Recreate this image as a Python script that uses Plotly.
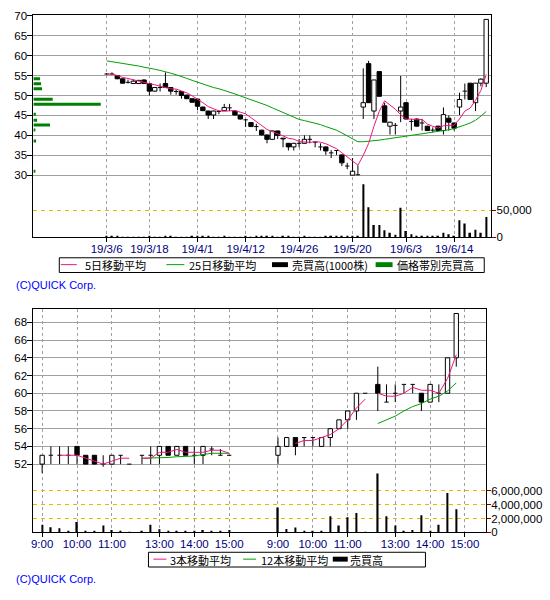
import numpy as np
import pandas as pd
import plotly.graph_objects as go

# ---------------- daily data (top chart) ----------------
dates = ["2019-03-06","2019-03-07","2019-03-08","2019-03-11","2019-03-12","2019-03-13","2019-03-14","2019-03-15",
         "2019-03-18","2019-03-19","2019-03-20","2019-03-22","2019-03-25","2019-03-26","2019-03-27","2019-03-28",
         "2019-03-29","2019-04-01","2019-04-02","2019-04-03","2019-04-04","2019-04-05","2019-04-08","2019-04-09",
         "2019-04-10","2019-04-11","2019-04-12","2019-04-15","2019-04-16","2019-04-17","2019-04-18","2019-04-19",
         "2019-04-22","2019-04-23","2019-04-24","2019-04-25","2019-04-26","2019-05-07","2019-05-08","2019-05-09",
         "2019-05-10","2019-05-13","2019-05-14","2019-05-15","2019-05-16","2019-05-17","2019-05-20","2019-05-21",
         "2019-05-22","2019-05-23","2019-05-24","2019-05-27","2019-05-28","2019-05-29","2019-05-30","2019-05-31",
         "2019-06-03","2019-06-04","2019-06-05","2019-06-06","2019-06-07","2019-06-10","2019-06-11","2019-06-12",
         "2019-06-13","2019-06-14","2019-06-17","2019-06-18","2019-06-19","2019-06-20","2019-06-21","2019-06-24"]

d_open = [55.4,55.4,55.0,54.2,53.3,53.0,53.0,53.9,53.0,51.1,
          52.0,53.0,52.0,51.0,51.0,50.1,49.2,49.1,47.1,46.1,
          45.1,46.0,46.2,46.9,46.1,45.1,43.9,43.2,42.2,41.3,
          40.1,39.0,41.1,39.3,38.0,37.1,38.0,38.0,39.0,38.3,
          37.1,37.1,35.6,36.2,35.1,32.3,30.0,30.1,47.1,58.0,
          46.1,56.0,47.4,42.3,42.5,46.1,48.2,43.5,44.1,43.1,
          42.3,41.3,42.3,41.2,44.3,43.1,47.1,51.1,53.1,48.2,
          53.1,53.1]
d_high = [55.6,55.8,55.1,54.3,54.0,54.0,53.9,54.0,53.1,52.1,
          53.0,55.8,52.0,51.5,51.0,50.2,49.3,49.2,47.2,46.2,
          46.2,46.3,47.9,47.9,46.2,45.2,44.1,43.3,42.9,41.4,
          40.2,41.2,41.2,39.3,38.1,38.1,39.1,40.0,40.0,38.4,
          38.0,37.2,36.3,36.3,35.2,33.1,34.3,32.5,56.8,58.7,
          53.9,56.0,48.2,43.4,43.1,54.9,48.3,44.1,44.2,44.1,
          42.4,42.0,42.4,47.0,45.0,43.2,50.7,53.0,53.1,53.1,
          54.3,69.1]
d_low = [55.2,55.2,54.1,53.0,53.0,53.0,53.0,53.0,50.0,51.0,
         51.0,52.0,50.2,50.2,49.2,49.1,48.2,46.3,46.1,44.1,
         44.1,45.3,46.1,46.1,45.0,44.0,42.1,42.1,41.1,40.0,
         38.0,38.9,39.1,37.0,36.2,36.2,37.0,38.0,38.0,37.0,
         36.2,35.1,34.3,35.1,32.3,31.5,30.0,30.0,44.1,48.2,
         44.1,49.8,43.3,40.2,40.2,43.3,44.0,41.2,42.2,41.2,
         41.1,40.8,41.1,40.2,41.2,41.2,45.1,49.0,48.9,46.1,
         52.3,52.1]
d_close = [55.4,55.4,54.2,53.1,53.3,53.6,53.8,53.0,51.1,52.0,
           52.0,52.0,51.1,51.0,50.0,49.2,48.3,47.3,46.2,45.1,
           46.1,46.0,47.0,46.9,45.1,44.1,43.9,42.2,42.2,40.1,
           39.0,41.1,40.0,39.1,37.1,38.0,38.0,39.0,39.0,38.3,
           37.1,36.1,35.6,36.2,33.1,32.3,31.0,30.1,48.2,48.2,
           53.9,49.8,43.3,43.3,42.5,47.1,44.1,43.5,42.3,43.1,
           41.2,41.3,41.2,45.2,43.3,41.8,49.0,51.1,49.0,53.1,
           54.1,69.1]
# volume in 1000 shares
d_volume = [2200,1500,1200,900,800,700,1000,600,1800,900,
            700,2500,1200,800,900,1000,1100,1600,1300,1500,
            900,700,1200,900,800,1000,1100,900,2600,1400,
            1500,1300,900,1100,1200,800,1000,1400,1000,900,
            1000,1500,1800,1300,2400,2600,3000,2400,98800,56000,
            23000,23000,13400,8500,4900,55000,12000,6000,3000,3000,
            1500,1200,2400,8500,6000,1200,32000,26000,8500,14000,
            8500,38000]
# 25-day moving average
ma25 = [58.7,58.5,58.3,58.1,57.9,57.6,57.4,57.1,56.9,56.6,
        56.3,56.0,55.6,55.2,54.8,54.3,53.8,53.3,52.9,52.4,
        52.0,51.7,51.3,50.9,50.4,49.9,49.4,49.0,48.6,48.1,
        47.5,46.9,46.3,45.7,45.0,44.4,44.0,43.7,43.4,43.0,
        42.7,42.2,41.8,41.3,40.6,39.8,39.0,38.4,38.4,38.5,
        38.6,38.8,39.0,39.2,39.4,39.6,39.8,40.0,40.1,40.3,
        40.5,40.7,40.9,41.1,41.4,41.7,42.1,42.6,43.1,43.8,
        44.8,46.0]
daily_tick_dates = ["2019-03-06","2019-03-18","2019-04-01","2019-04-12",
                    "2019-04-26","2019-05-20","2019-06-03","2019-06-14"]
price_ticks_top = [30, 35, 40, 45, 50, 55, 60, 65, 70]

# price-band volume (価格帯別売買高)
band_price = [54.2, 52.95, 51.7, 49.05, 47.8, 45.3, 43.8, 42.6, 41.35, 38.6, 31.0]
band_volume = [11900, 13700, 15400, 34400, 120000, 4300, 6600, 29600, 3000, 4800, 2500]

# ---------------- intraday data (bottom chart, 15-min bars) ----------------
day1_time = ["9:00","9:15","9:30","9:45","10:00","10:15","10:30","10:45","11:00","11:15","11:30",
             "12:30","12:45","13:00","13:15","13:30","13:45","14:00","14:15","14:30","14:45","15:00"]
day1_open = [52,53,53,53,54,53,53,52,52,53,52, 53,53,53,54,53,54,53,53,53.7,53,53]
day1_high = [53,54,54,54,54,53,53,53,53,53,52, 53,54,54,54,54,54,54,54,54,53.7,53]
day1_low = [51,52,52,52,52,52,52,51.7,52,52,52, 52,52,52,53,53,53,52,52,53,53,53]
day1_close = [53,53,53,53,53,52,52,52,53,53,52, 53,53,54,53,54,53,53,54,53.7,53,53]
day1_vol = [1.1e6,0.75e6,0.6e6,0.15e6,1.5e6,0.2e6,0.15e6,1.0e6,0.35e6,0.15e6,0.1e6,
            0.15e6,1.1e6,0.45e6,0.2e6,0.15e6,0.15e6,0.2e6,0.35e6,0.15e6,0.2e6,0.35e6]

day2_time = ["9:00","9:15","9:30","9:45","10:00","10:15","10:30","10:45","11:00","11:15","11:30",
             "12:30","12:45","13:00","13:15","13:30","13:45","14:00","14:15","14:30","14:45"]
day2_open = [53,54,55,55,55,54,55,56,57,58,60, 61,59,60,61,61,60,59,60,60,64]
day2_high = [55,55,55,55,55,55,56,57,58,60,60, 63,61,61,61,61,60,61,61,64,69]
day2_low = [52,54,53,54,54,54,54,56,56,57,60, 58,59,59,60,60,58,59,59,60,63]
day2_close = [54,55,54,55,55,55,56,57,58,60,60, 60,59,60,61,61,59,61,60,64,69]
day2_vol = [3.6e6,0.5e6,0.7e6,0.15e6,0.15e6,0.2e6,2.35e6,1.0e6,2.2e6,2.8e6,0.1e6,
            8.5e6,2.35e6,1.0e6,0.2e6,0.35e6,2.5e6,0.2e6,1.1e6,5.7e6,3.35e6]

intraday_tick_labels = ["9:00", "10:00", "11:00", "13:00", "14:00", "15:00"]
price_ticks_bottom = [52, 54, 56, 58, 60, 62, 64, 66, 68]
vol_ticks_bottom = [0, 2000000, 4000000, 6000000]

# ---------------- styling constants ----------------
W, H = 550, 600
TICKF = "Liberation Sans, Arial, sans-serif"
TICKSIZE = 11.5
CJK = "Noto Sans CJK JP, sans-serif"
GRID = "#A0A0A0"
ORANGE = "#E8B800"
PINK = "#F0157A"
GREEN = "#00A000"
BAND_GREEN = "#008000"
NAVY = "#000080"


def px(x):
    return x / W


def py(y):
    return 1 - y / H


def candle_traces(xs, o, h, l, c, width, xa, ya):
    xs = np.asarray(xs, float)
    o = np.asarray(o, float); h = np.asarray(h, float)
    l = np.asarray(l, float); c = np.asarray(c, float)
    lo = np.minimum(o, c); hi = np.maximum(o, c)
    body = hi - lo
    has_body = body > 0.05
    colors = ["white" if cc > oo else "black" for oo, cc in zip(o, c)]
    bars = go.Bar(x=xs[has_body], y=body[has_body], base=lo[has_body], width=width,
                  marker=dict(color=[colors[i] for i in range(len(xs)) if has_body[i]],
                              line=dict(color="black", width=1)),
                  xaxis=xa, yaxis=ya, showlegend=False, hoverinfo="skip")
    wx, wy = [], []
    for i in range(len(xs)):
        if h[i] > hi[i]:
            wx += [xs[i], xs[i], None]; wy += [hi[i], h[i], None]
        if l[i] < lo[i]:
            wx += [xs[i], xs[i], None]; wy += [lo[i], l[i], None]
        if not has_body[i]:
            wx += [xs[i] - width / 2, xs[i] + width / 2, None]; wy += [o[i], o[i], None]
    wicks = go.Scatter(x=wx, y=wy, mode="lines", line=dict(color="black", width=1),
                       xaxis=xa, yaxis=ya, showlegend=False, hoverinfo="skip")
    return bars, wicks


fig = go.Figure()

# ---------------- top chart ----------------
xi = np.arange(len(dates))
fig.add_trace(go.Bar(x=band_volume, y=band_price, orientation="h", width=0.75,
                     marker=dict(color=BAND_GREEN, line=dict(width=0)),
                     xaxis="x3", yaxis="y", showlegend=False))
b, w = candle_traces(xi, d_open, d_high, d_low, d_close, 0.82, "x", "y")
fig.add_trace(b)
fig.add_trace(w)
fig.add_trace(go.Scatter(x=xi, y=ma25, mode="lines", line=dict(color=GREEN, width=1),
                         xaxis="x", yaxis="y", showlegend=False))
ma5 = pd.Series(d_close).rolling(5, min_periods=1).mean()
fig.add_trace(go.Scatter(x=xi, y=ma5, mode="lines", line=dict(color=PINK, width=1),
                         xaxis="x", yaxis="y", showlegend=False))
fig.add_trace(go.Bar(x=xi, y=d_volume, width=0.3, marker=dict(color="black", line=dict(width=0)),
                     xaxis="x", yaxis="y2", showlegend=False))

tick_idx = [dates.index(d) for d in daily_tick_dates]
tick_txt = [f"{d[2:4]}/{int(d[5:7])}/{int(d[8:10])}" for d in daily_tick_dates]

# ---------------- bottom chart ----------------
LUNCH_GAP = 1.45
DAY_GAP = 5.6
DAY_SPAN = 20 + LUNCH_GAP + DAY_GAP


def slot(t):
    hh, mm = map(int, t.split(":"))
    mins = hh * 60 + mm
    if mins <= 11 * 60 + 30:
        return (mins - 540) / 15
    return 10 + LUNCH_GAP + (mins - 750) / 15


days = [(day1_time, day1_open, day1_high, day1_low, day1_close, day1_vol),
        (day2_time, day2_open, day2_high, day2_low, day2_close, day2_vol)]

m3x, m3y, m12x, m12y = [], [], [], []
for d, (tt, oo, hh, ll, cc, vv) in enumerate(days):
    xs = [d * DAY_SPAN + slot(t) for t in tt]
    b, w = candle_traces(xs, oo, hh, ll, cc, 0.5, "x4", "y4")
    fig.add_trace(b)
    fig.add_trace(w)
    fig.add_trace(go.Bar(x=xs, y=vv, width=0.16, marker=dict(color="black", line=dict(width=0)),
                         xaxis="x4", yaxis="y5", showlegend=False))
    s = pd.Series(cc, dtype=float)
    r3 = s.rolling(3).mean()
    r12 = s.rolling(12).mean()
    prev_pm = None
    for k, t in enumerate(tt):
        pm = slot(t) > 10.5
        if prev_pm is not None and pm != prev_pm:
            m3x.append(None); m3y.append(None); m12x.append(None); m12y.append(None)
        prev_pm = pm
        m3x.append(xs[k]); m3y.append(None if np.isnan(r3[k]) else r3[k])
        m12x.append(xs[k]); m12y.append(None if np.isnan(r12[k]) else r12[k])
    m3x.append(None); m3y.append(None); m12x.append(None); m12y.append(None)

fig.add_trace(go.Scatter(x=m12x, y=m12y, mode="lines", line=dict(color=GREEN, width=1),
                         xaxis="x4", yaxis="y4", showlegend=False, connectgaps=False))
fig.add_trace(go.Scatter(x=m3x, y=m3y, mode="lines", line=dict(color=PINK, width=1),
                         xaxis="x4", yaxis="y4", showlegend=False, connectgaps=False))

b_tickvals, b_ticktext = [], []
for d in range(len(days)):
    for lab in intraday_tick_labels:
        b_tickvals.append(d * DAY_SPAN + slot(lab))
        b_ticktext.append(lab)

# ---------------- layout ----------------
tick_font = dict(family=TICKF, size=TICKSIZE, color="black")
xtick_font = dict(family=TICKF, size=TICKSIZE, color=NAVY)
axis_common = dict(showline=True, linecolor="black", linewidth=1, mirror=True, zeroline=False)

top_dom = [py(236.7), py(10)]
bot_dom = [py(537.3), py(309.3)]
left = px(31.5)

fig.update_layout(
    width=W, height=H, autosize=False,
    margin=dict(l=0, r=0, t=0, b=0),
    paper_bgcolor="white", plot_bgcolor="white",
    barmode="overlay", showlegend=False,
    xaxis=dict(domain=[left, px(491)], range=[(31.5 - 105) / 5.366, (491 - 105) / 5.366],
               anchor="y", tickvals=tick_idx, ticktext=tick_txt, tickangle=0,
               showgrid=True, gridcolor=GRID, griddash="3px,3px", gridwidth=1,
               ticks="outside", ticklen=4, tickcolor="black", ticklabelstandoff=-3,
               tickfont=xtick_font, **axis_common),
    yaxis=dict(domain=top_dom, range=[14.4, 70.25], anchor="x",
               tickvals=price_ticks_top, showgrid=True, gridcolor=GRID, gridwidth=1,
               ticks="outside", ticklen=5, tickcolor="black", ticklabelstandoff=-2,
               tickfont=tick_font, **axis_common),
    yaxis2=dict(overlaying="y", side="right", anchor="x", range=[0, 413686],
                tickvals=[0, 50000], ticktext=["0", "50,000"],
                showgrid=True, gridcolor=ORANGE, griddash="4px,4px", gridwidth=1,
                ticks="outside", ticklen=4, tickcolor="#800000", ticklabelstandoff=-2,
                tickfont=tick_font, zeroline=False, showline=False),
    xaxis3=dict(overlaying="x", anchor="y", range=[0, 120000 * 460 / 67.7], visible=False),
    xaxis4=dict(domain=[left, px(485.7)], range=[(31.5 - 40.3) / 8.75, (485.7 - 40.3) / 8.75],
                anchor="y4", tickvals=b_tickvals, ticktext=b_ticktext, tickangle=0,
                showgrid=True, gridcolor=GRID, griddash="3px,3px", gridwidth=1,
                ticks="outside", ticklen=4, tickcolor="black", ticklabelstandoff=-3,
                tickfont=xtick_font, **axis_common),
    yaxis4=dict(domain=bot_dom, range=[44.288, 69.551], anchor="x4",
                tickvals=price_ticks_bottom, showgrid=True, gridcolor=GRID, gridwidth=1,
                ticks="outside", ticklen=5, tickcolor="black", ticklabelstandoff=-2,
                tickfont=tick_font, **axis_common),
    yaxis5=dict(overlaying="y4", side="right", anchor="x4", range=[0, 32.34e6],
                tickvals=vol_ticks_bottom, ticktext=[f"{v:,}" for v in vol_ticks_bottom],
                showgrid=True, gridcolor=ORANGE, griddash="4px,4px", gridwidth=1,
                ticks="outside", ticklen=4, tickcolor="#800000", ticklabelstandoff=-2,
                tickfont=tick_font, zeroline=False, showline=False),
)

# ---------------- legends & credits ----------------
shapes = []
annots = []
LEG_SIZE = 11


def legend_text(x, y, text):
    annots.append(dict(x=px(x), y=py(y), xref="paper", yref="paper", text=text,
                       showarrow=False, xanchor="left", yanchor="middle", borderpad=0,
                       font=dict(family=CJK, size=LEG_SIZE, color="black")))


def leg_line(x0, x1, y, color):
    shapes.append(dict(type="line", xref="paper", yref="paper", x0=px(x0), x1=px(x1),
                       y0=py(y), y1=py(y), line=dict(color=color, width=1)))


def leg_rect(x0, x1, y0, y1, color):
    shapes.append(dict(type="rect", xref="paper", yref="paper", x0=px(x0), x1=px(x1),
                       y0=py(y1), y1=py(y0), fillcolor=color, line=dict(width=0)))


def leg_box(x0, x1, y0, y1):
    shapes.append(dict(type="rect", xref="paper", yref="paper", x0=px(x0), x1=px(x1),
                       y0=py(y1), y1=py(y0), line=dict(color="black", width=1),
                       fillcolor="rgba(0,0,0,0)"))


# top legend
leg_box(57.5, 484, 257.5, 272.5)
leg_line(59, 75, 264.5, PINK)
legend_text(82, 265, "5日移動平均")
leg_line(165, 183, 264.5, GREEN)
legend_text(187, 265, "25日移動平均")
leg_rect(271, 287, 262, 267, "black")
legend_text(290, 265, "売買高(1000株)")
leg_rect(375, 392, 262, 267, BAND_GREEN)
legend_text(395, 265, "価格帯別売買高")

# bottom legend
leg_box(147, 425, 557.5, 572.5)
leg_line(152, 165, 564.5, PINK)
legend_text(168, 565, "3本移動平均")
leg_line(242, 255, 564.5, GREEN)
legend_text(259, 565, "12本移動平均")
leg_rect(332, 347, 562, 567, "black")
legend_text(348, 565, "売買高")

for yy in (285, 585):
    annots.append(dict(x=px(13), y=py(yy), xref="paper", yref="paper", text="(C)QUICK Corp.",
                       showarrow=False, xanchor="left", yanchor="middle", borderpad=0,
                       font=dict(family="Liberation Sans, sans-serif", size=11, color="#0000FF")))

fig.update_layout(shapes=shapes, annotations=annots)

fig.write_html("out.html", config={"displayModeBar": False},
               post_script="document.body.style.margin='0px';document.body.style.padding='0px';")
